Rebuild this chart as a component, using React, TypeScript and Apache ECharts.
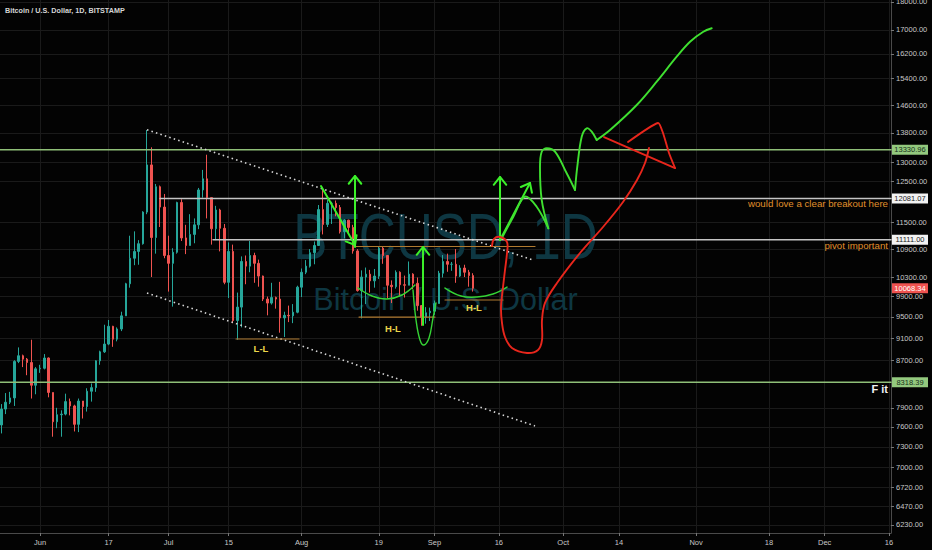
import React, { useEffect, useRef } from "react";
import * as echarts from "echarts";

const W = 932;
const H = 550;
const BG = "#030303";
const FONT = "Liberation Sans, Arial, sans-serif";

// x axis: day index, 0 = 1 Jun 2019
const xTickDays = [0, 16, 30, 44, 61, 79, 92, 107, 122, 135, 153, 170, 183, 198];
const xTickLabels = ["Jun", "17", "Jul", "15", "Aug", "19", "Sep", "16", "Oct", "14", "Nov", "18", "Dec", "16"];
const priceTicks = [18000, 17000, 16200, 15400, 14600, 13800, 13000, 12500, 11500, 10900, 10300, 9900, 9500, 9100, 8700, 7900, 7600, 7300, 7000, 6720, 6470, 6230];

const X_MIN = -9.33;
const X_MAX = 198.46;
const Y_MIN = 8.7207; // ln price at bottom of pane
const Y_MAX = 9.8018; // ln price at top of pane

// daily candles, first = 23 May 2019
const firstCandleDay = -9;
const opens = [
  7630, 7880, 7990, 8060, 8680, 8780, 8720, 8660, 8270,
  8550, 8560, 8740, 8150, 7680, 7790, 7800, 8000, 7930, 7640, 8010, 7920, 8170, 8230, 8690, 8850, 8990, 9320, 9080, 9270, 9520, 10160, 10700, 10850, 11020, 11750, 12930, 11160, 12370, 11870,
  10760, 10590, 10830, 11980, 11150, 10980, 11230, 11450, 12290, 12570, 12100, 11360, 11800, 11370, 10190, 10850, 9430, 9690, 10630, 10530, 10760, 10590, 10320, 9850, 9770, 9880, 9850, 9480, 9530, 9520, 9590,
  10090, 10400, 10530, 10820, 10980, 11810, 11460, 11960, 11960, 11860, 11290, 11560, 11390, 10860, 10020, 10300, 10360, 10220, 10320, 10920, 10760, 10130, 10100, 10400, 10140, 10130, 10360, 10170, 9720, 9490, 9580,
  9610, 9760, 10380, 10630, 10570, 10570, 10320, 10490, 10400, 10330,
];
const highs = [
  7960, 8140, 8160, 8700, 8930, 8800, 8740, 9070, 8580,
  8620, 8810, 8750, 8150, 7900, 7860, 8130, 8050, 7950, 8050, 8010, 8220, 8300, 8700, 8870, 9350, 9440, 9330, 9300, 9600, 10180, 11200, 11300, 11100, 11770, 13880, 13400, 12440, 12400, 12190,
  11200, 10920, 12000, 12060, 11450, 11700, 11600, 12340, 12800, 13200, 12100, 11900, 11830, 11470, 11050, 11000, 9980, 10740, 10760, 11080, 10820, 10670, 10330, 9900, 10180, 9900, 10200, 9600, 9720, 9750, 10120,
  10480, 10660, 10900, 11070, 11920, 12300, 12050, 12000, 12030, 11920, 11580, 11570, 11450, 10900, 10440, 10500, 10450, 10470, 10950, 10950, 10770, 10230, 10440, 10420, 10330, 10630, 10380, 10290, 9730, 9690, 9680,
  9820, 10430, 10770, 10800, 10620, 10900, 10550, 10560, 10450, 10380,
];
const lows = [
  7500, 7800, 7960, 7930, 8650, 8580, 8440, 8050, 8120,
  8480, 8540, 8070, 7450, 7580, 7450, 7780, 7780, 7530, 7520, 7730, 7840, 8000, 8160, 8620, 8830, 8970, 8940, 9040, 9230, 9520, 10080, 10550, 10560, 11000, 11700, 10300, 10800, 11400, 10700,
  10000, 9700, 10800, 11080, 10790, 10980, 11030, 11350, 12100, 11600, 11000, 11100, 10850, 10150, 9870, 9380, 9070, 9300, 10150, 10400, 10180, 10100, 9810, 9530, 9740, 9660, 9200, 9120, 9400, 9380, 9570,
  9890, 10360, 10500, 10570, 10980, 11230, 11400, 11470, 11650, 11250, 11140, 11250, 10800, 10000, 9470, 9750, 9980, 10080, 10260, 10580, 9860, 9770, 10060, 9900, 9880, 10130, 10050, 9620, 9330, 9370, 9420,
  9540, 9760, 10290, 10410, 10430, 10180, 10300, 10300, 10100, 10000,
];
const closes = [
  7880, 7990, 8060, 8680, 8780, 8720, 8660, 8270, 8550,
  8560, 8740, 8150, 7680, 7790, 7800, 8000, 7930, 7640, 8010, 7920, 8170, 8230, 8690, 8850, 8990, 9320, 9080, 9270, 9520, 10160, 10700, 10850, 11020, 11750, 12930, 11160, 12370, 11870, 10760,
  10590, 10830, 11980, 11150, 10980, 11230, 11450, 12290, 12570, 12100, 11360, 11800, 11370, 10190, 10850, 9430, 9690, 10630, 10530, 10760, 10590, 10320, 9850, 9770, 9880, 9850, 9480, 9530, 9520, 9590, 10090,
  10400, 10530, 10820, 10980, 11810, 11460, 11960, 11960, 11860, 11290, 11560, 11390, 10860, 10020, 10300, 10360, 10220, 10320, 10920, 10760, 10130, 10100, 10400, 10140, 10130, 10360, 10170, 9720, 9490, 9580, 9610,
  9760, 10380, 10630, 10570, 10570, 10320, 10490, 10400, 10330, 10068.34,
];

// drawn levels and annotations, as [day index, price]
const upperTrend = [[24.95, 13885], [114.97, 10663]];
const lowerTrend = [[24.95, 9971], [115.44, 7614]];
const greenLevels = [13330.96, 8318.39];
const greyLevels = [12081.07, 11111.0];
const greyLevelStarts = [28.0, 40.35];
const lastPrice = 10068.34;
const orangeLines = [
  [45.71, 60.4, 9083],
  [74.39, 92.12, 9497],
  [72.99, 115.44, 10958],
  [94.45, 107.98, 9831],
];
const swingLabels = [
  ["L-L", 51.54, 8919],
  ["H-L", 82.32, 9288],
  ["H-L", 101.21, 9673],
];
const greenPathA = [[107.67, 11142], [110.38, 11641], [113.11, 12123], [115.83, 11879], [118.54, 11370]];
const greenPathB = [[118.54, 11370], [117.0, 12042], [116.6, 12883], [117.0, 13281], [118.17, 13373], [120.1, 13281], [122.83, 12712], [124.77, 12288]];
const greenPathC = [[124.77, 12288], [125.3, 12883], [126.33, 13691], [127.5, 13927], [128.66, 13831], [129.83, 13600]];
const greenPathD = [[129.83, 13600], [132.93, 13879], [139.16, 14601], [143.82, 15308], [148.48, 16104], [151.59, 16601], [154.69, 16941], [156.65, 17059]];
const arrows = [
  [[107.28, 11103], [107.28, 12617]],
  [[107.28, 11103], [114.27, 12464]],
  [[65.53, 12388], [73.46, 10991]],
  [[73.46, 10947], [73.46, 12643]],
  [[89.32, 9345], [89.32, 10947]],
];
const smileOne = [[74.16, 10073], [77.43, 9911], [80.92, 9851], [84.42, 9931], [87.45, 10134]];
const dipU = [[86.99, 10032], [87.69, 9440], [88.62, 9065], [89.55, 8973], [90.72, 9101], [91.65, 9478], [92.35, 9772]];
const smileTwo = [[94.45, 10073], [98.18, 9911], [101.91, 9891], [105.64, 9951], [108.91, 10093]];
const redPath = [
  [105.41, 10969], [105.88, 11126], [107.28, 11171], [108.91, 11058], [108.91, 10814], [108.44, 10448], [107.98, 10094],
  [107.51, 9692], [107.74, 9383], [108.44, 9120], [110.07, 8919], [113.57, 8829], [116.14, 8883], [117.07, 9065],
  [117.07, 9440], [117.77, 9772], [120.57, 10176], [125.93, 10814], [131.3, 11400], [135.96, 11993], [139.23, 12540],
  [141.09, 12980], [142.02, 13381],
];
const redTriangle = [[137.13, 13545], [144.12, 14078], [145.29, 13794], [146.69, 13246], [148.09, 12849]];
const redSlash = [[131.53, 13683], [148.09, 12849]];
const noteBreakout = ["would love a clear breakout here", 11945];
const notePivot = ["pivot important", 10991];
const noteF = ["F it", 8207];

function buildGraphics(chart: any) {
  const P = (d: number, p: number): number[] =>
    chart.convertToPixel({ gridIndex: 0 }, [d, Math.log(p)]) as number[];
  const PL = (pts: number[][]) => pts.map((q) => P(q[0], q[1]));
  const left = P(X_MIN, 10000)[0];
  const right = P(X_MAX, 10000)[0];
  const top = chart.convertToPixel({ gridIndex: 0 }, [0, Y_MAX])[1];
  const bottom = chart.convertToPixel({ gridIndex: 0 }, [0, Y_MIN])[1];
  const cx = (left + right) / 2;
  const cy = (top + bottom) / 2;
  const els: any[] = [];

  const poly = (pts: number[][], stroke: string, lw: number, smooth = 0, extra: any = {}, z = 50) =>
    els.push({
      type: "polyline",
      z,
      silent: true,
      shape: { points: pts, smooth },
      style: { stroke, lineWidth: lw, fill: "none", lineCap: "round", lineJoin: "round", ...extra },
    });
  const text = (t: string, x: number, y: number, style: any, z = 55, extra: any = {}) =>
    els.push({ type: "text", x, y, z, silent: true, ...extra, style: { text: t, fontFamily: FONT, ...style } });
  const arrow = (a: number[], b: number[], color: string, lw: number) => {
    poly([a, b], color, lw);
    const dx = b[0] - a[0];
    const dy = b[1] - a[1];
    const L = Math.hypot(dx, dy) || 1;
    const ux = dx / L;
    const uy = dy / L;
    const len = 10;
    const ang = 0.68;
    const arm = (s: number) => {
      const c = Math.cos(s * ang);
      const sn = Math.sin(s * ang);
      const rx = ux * c - uy * sn;
      const ry = ux * sn + uy * c;
      return [b[0] - len * rx, b[1] - len * ry];
    };
    poly([arm(1), b, arm(-1)], color, lw);
  };
  const priceBox = (p: number, label: string, bg: string, fg: string) => {
    const y = P(0, p)[1];
    els.push({
      type: "rect",
      z: 60,
      silent: true,
      shape: { x: right + 1, y: y - 5, width: 36, height: 10 },
      style: { fill: bg },
    });
    text(label, right + 19, y, { fill: fg, fontSize: 7.5, align: "center", verticalAlign: "middle" }, 61);
  };

  // watermark
  text("BTCUSD, 1D", cx, cy - 29.5, { fill: "#0e3742", fontSize: 64, align: "center", verticalAlign: "middle" }, 1, { scaleX: 0.8 });
  text("Bitcoin / U.S. Dollar", cx, cy + 32.5, { fill: "#0e3742", fontSize: 30.5, align: "center", verticalAlign: "middle" }, 1);

  // title
  text("Bitcoin / U.S. Dollar, 1D, BITSTAMP", 5, 10, { fill: "#d6d6d6", fontSize: 7.2, fontWeight: "bold", align: "left", verticalAlign: "middle" }, 55);

  // horizontal levels
  greenLevels.forEach((p) => {
    const y = P(0, p)[1];
    poly([[left, y], [right, y]], "#8fbf78", 1.5, 0, {}, 40);
  });
  greyLevels.forEach((p, i) => {
    const y = P(0, p)[1];
    poly([[P(greyLevelStarts[i], p)[0], y], [right, y]], "#c4c4c4", 1.5, 0, {}, 40);
  });

  // channel
  poly(PL(upperTrend), "#d8d8d8", 1.6, 0, { lineDash: [1.5, 3.2], lineCap: "butt" }, 45);
  poly(PL(lowerTrend), "#d8d8d8", 1.6, 0, { lineDash: [1.5, 3.2], lineCap: "butt" }, 45);

  // orange swing levels
  orangeLines.forEach((o) => {
    poly([P(o[0], o[2]), P(o[1], o[2])], "#b07a30", 1.2, 0, {}, 45);
  });
  swingLabels.forEach((s) => {
    const q = P(s[1] as number, s[2] as number);
    text(s[0] as string, q[0], q[1], { fill: "#ecd54a", fontSize: 9.5, fontWeight: "bold", align: "center", verticalAlign: "middle" });
  });

  // hand drawings
  poly(PL(smileOne), "#35d435", 1.5, 0.4);
  poly(PL(dipU), "#35d435", 1.4, 0.4);
  poly(PL(smileTwo), "#35d435", 1.5, 0.4);
  arrows.forEach((a) => arrow(P(a[0][0], a[0][1]), P(a[1][0], a[1][1]), "#3cf02a", 2));
  poly(PL(greenPathA), "#3fe030", 1.9, 0.35);
  poly(PL(greenPathB), "#3fe030", 1.9, 0.35);
  poly(PL(greenPathC), "#3fe030", 1.9, 0.35);
  poly(PL(greenPathD), "#3fe030", 1.9, 0.35);
  poly(PL(redPath), "#e8261c", 1.9, 0.35);
  poly(PL(redTriangle), "#e8261c", 1.9, 0.2);
  poly(PL(redSlash), "#e8261c", 1.9, 0);

  // notes
  text(noteBreakout[0] as string, right - 3, P(0, noteBreakout[1] as number)[1], { fill: "#e0902c", fontSize: 9.7, align: "right", verticalAlign: "middle" });
  text(notePivot[0] as string, right - 3, P(0, notePivot[1] as number)[1], { fill: "#e0902c", fontSize: 9.7, align: "right", verticalAlign: "middle" });
  text(noteF[0] as string, right - 3, P(0, noteF[1] as number)[1], { fill: "#f2f2f2", fontSize: 11, fontWeight: "bold", align: "right", verticalAlign: "middle" });

  // axis price boxes
  priceBox(greenLevels[0], greenLevels[0].toFixed(2), "#93c97e", "#15301a");
  priceBox(greyLevels[0], greyLevels[0].toFixed(2), "#f2f2f2", "#222222");
  priceBox(greyLevels[1], greyLevels[1].toFixed(2), "#f2f2f2", "#222222");
  priceBox(lastPrice, lastPrice.toFixed(2), "#ef5350", "#ffffff");
  priceBox(greenLevels[1], greenLevels[1].toFixed(2), "#93c97e", "#15301a");

  return els;
}

export default function App() {
  const ref = useRef<HTMLDivElement>(null);
  useEffect(() => {
    if (!ref.current) return;
    const chart = echarts.init(ref.current, null, { renderer: "svg" });
    const candleData = opens.map((o, i) => [
      firstCandleDay + i,
      Math.log(o),
      Math.log(closes[i]),
      Math.log(lows[i]),
      Math.log(highs[i]),
    ]);
    const lnTicks = priceTicks.map((p) => Math.log(p));
    chart.setOption({
      animation: false,
      backgroundColor: BG,
      grid: { left: 0, right: 41, top: 0, bottom: 17, outerBoundsMode: "none" },
      xAxis: {
        type: "value",
        min: X_MIN,
        max: X_MAX,
        axisLine: { show: true, onZero: false, lineStyle: { color: "#4a4a4a", width: 1 } },
        axisTick: { show: true, length: 3, customValues: xTickDays, lineStyle: { color: "#777777" } },
        axisLabel: {
          customValues: xTickDays,
          color: "#c8c8c8",
          fontSize: 7.5,
          fontFamily: FONT,
          margin: 5,
          formatter: (v: number) => {
            const i = xTickDays.indexOf(Math.round(v));
            return i >= 0 ? xTickLabels[i] : "";
          },
        },
        splitLine: { show: true, lineStyle: { color: "#1a1a1a", width: 1 } },
      },
      yAxis: {
        type: "value",
        position: "right",
        min: Y_MIN,
        max: Y_MAX,
        axisLine: { show: true, onZero: false, lineStyle: { color: "#4a4a4a", width: 1 } },
        axisTick: { show: true, length: 3, customValues: lnTicks, lineStyle: { color: "#777777" } },
        axisLabel: {
          customValues: lnTicks,
          color: "#c8c8c8",
          fontSize: 7.5,
          fontFamily: FONT,
          margin: 5,
          formatter: (v: number) => Math.exp(v).toFixed(2),
        },
        splitLine: { show: true, lineStyle: { color: "#1a1a1a", width: 1 } },
      },
      series: [
        {
          type: "candlestick",
          dimensions: ["day", "open", "close", "lowest", "highest"],
          encode: { x: 0, y: [1, 2, 3, 4] },
          data: candleData,
          barWidth: 2,
          clip: true,
          z: 3,
          itemStyle: {
            color: "#26a69a",
            color0: "#ef5350",
            borderColor: "#26a69a",
            borderColor0: "#ef5350",
            borderWidth: 1,
          },
        },
      ],
    });
    chart.setOption({ graphic: { elements: buildGraphics(chart) } });
    return () => chart.dispose();
  }, []);
  return <div ref={ref} style={{ position: "fixed", left: 0, top: 0, width: W, height: H, background: BG }} />;
}
